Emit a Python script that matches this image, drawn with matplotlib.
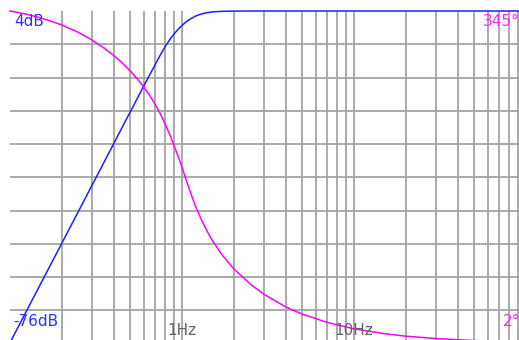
import matplotlib
matplotlib.use("Agg")
import matplotlib.pyplot as plt

# Frequency response of a 4th-order high-pass stage
freq_mag = [0.1, 0.15, 0.2, 0.25, 0.3, 0.35, 0.4, 0.45, 0.5, 0.55,
            0.6, 0.65, 0.7, 0.75, 0.8, 0.85, 0.9, 0.95, 1.0, 1.05,
            1.1, 1.2, 1.3, 1.4, 1.5, 1.7, 2.0, 2.5, 100.0]
mag_db = [-75.8, -61.8, -51.9, -44.2, -37.9, -32.6, -28.0, -23.9, -20.3, -17.0,
          -14.0, -11.3, -8.8, -6.5, -4.5, -2.85, -1.5, -0.4, 0.5, 1.3,
          1.9, 2.8, 3.3, 3.6, 3.78, 3.92, 3.98, 4.0, 4.0]

freq_ph = [0.1, 0.12, 0.14, 0.17, 0.2, 0.25, 0.3, 0.35, 0.4, 0.45,
           0.5, 0.55, 0.6, 0.65, 0.7, 0.75, 0.8, 0.85, 0.9, 0.95,
           1.0, 1.05, 1.1, 1.15, 1.2, 1.3, 1.4, 1.5, 1.7, 2.0,
           2.5, 3.0, 4.0, 5.0, 7.0, 10.0, 15.0, 20.0, 30.0, 50.0, 100.0]
phase_deg = [345.0, 342.3, 339.4, 334.9, 330.5, 322.8, 314.8, 306.9, 299.0, 291.0,
             282.8, 274.5, 266.0, 257.2, 247.8, 237.9, 227.3, 216.4, 205.2, 194.0,
             182.8, 171.5, 160.8, 151.0, 142.2, 128.0, 116.5, 107.0, 92.5, 77.5,
             61.5, 51.0, 38.0, 30.5, 21.8, 15.2, 10.2, 7.6, 5.1, 3.05, 1.5]

# Grid positions and axis ranges
grid_freqs = [0.2, 0.3, 0.4, 0.5, 0.6, 0.7, 0.8, 0.9,
              1, 2, 3, 4, 5, 6, 7, 8, 9,
              10, 20, 30, 40, 50, 60, 70, 80, 90]
grid_db = [-4, -12, -20, -28, -36, -44, -52, -60, -68]
db_range = (-76, 4)
phase_range = (0, 345)
freq_range = (0.1, 100)

# Scale labels
db_top_label, db_bottom_label = "4dB", "-76dB"
freq_labels = [(1, "1Hz"), (10, "10Hz")]
phase_top_label, phase_bottom_label = "345\u00b0", "2\u00b0"

W, H = 519, 340
fig = plt.figure(figsize=(W / 100, H / 100), dpi=100)
fig.patch.set_facecolor("white")

# plot area in pixels: left 10, right 526, top 11, bottom 343.5
left_px, right_px, top_px, bot_px = 10, 526, 11, 343.5
rect = [left_px / W, (H - bot_px) / H, (right_px - left_px) / W, (bot_px - top_px) / H]
ax = fig.add_axes(rect)
ax.set_xscale("log")
ax.set_xlim(*freq_range)
ax.set_ylim(*db_range)
for s in ax.spines.values():
    s.set_visible(False)

grid_color = "#a0a0a0"
for f in grid_freqs:
    ax.axvline(f, color=grid_color, lw=1.25, zorder=1)
for d in grid_db:
    ax.axhline(d, color=grid_color, lw=1.25, zorder=1)
ax.set_xticks([])
ax.set_xticks([], minor=True)
ax.set_yticks([])

ax2 = fig.add_axes(rect, sharex=ax)
ax2.set_ylim(*phase_range)
ax2.patch.set_visible(False)
for s in ax2.spines.values():
    s.set_visible(False)
ax2.set_yticks([])
ax2.tick_params(which="both", bottom=False, labelbottom=False)

ax.plot(freq_mag, mag_db, color="#1e1eff", lw=1.1, zorder=5, clip_on=False)
ax2.plot(freq_ph, phase_deg, color="#ff00ff", lw=1.1, zorder=5, clip_on=False)

fs = 11
font = "DejaVu Sans"

def fig_text(x_px, baseline_px, s, color, ha="left"):
    fig.text(x_px / W, 1 - baseline_px / H, s, color=color, fontsize=fs,
             family=font, ha=ha, va="baseline", zorder=4)

blue_txt = "#3030ff"
mag_txt = "#ff28ff"
gray_txt = "#646464"
fig_text(14, 25.5, db_top_label, blue_txt)
fig_text(13, 325.5, db_bottom_label, blue_txt)
fig_text(483, 26.5, phase_top_label, mag_txt)
fig_text(503, 325.5, phase_bottom_label, mag_txt)
for f, lab in freq_labels:
    xd = ax.transData.transform((f, 0))[0]
    fig.text(xd / W, 1 - 335 / H, lab, color=gray_txt, fontsize=fs,
             family=font, ha="center", va="baseline")

fig.savefig("out.png", dpi=100)
